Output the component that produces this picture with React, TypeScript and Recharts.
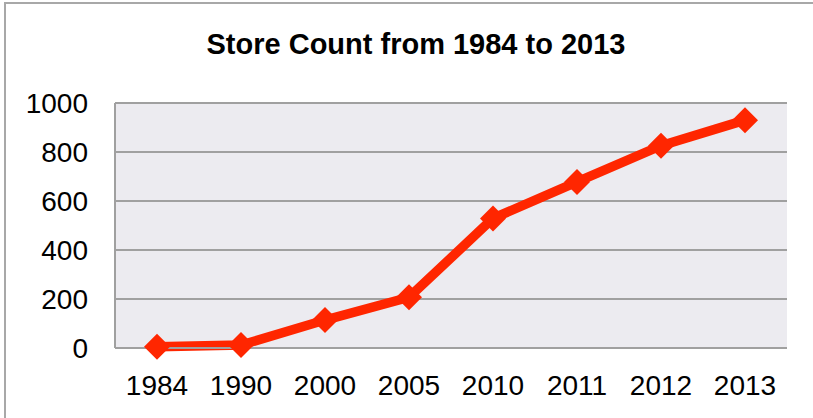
import { LineChart, Line, XAxis, YAxis, CartesianGrid } from "recharts";

const years = ["1984", "1990", "2000", "2005", "2010", "2011", "2012", "2013"];
const storeCounts = [5, 12, 114, 207, 529, 678, 826, 930];
const yTicks = [0, 200, 400, 600, 800, 1000];

const data = years.map((year, i) => ({ year, stores: storeCounts[i] }));

const RED = "#FF2600";
const FONT = "'Liberation Sans', Arial, sans-serif";

// diamond marker like the spreadsheet original
function Diamond(props: any) {
  const { cx, cy, index } = props;
  if (cx == null || cy == null) return null;
  const r = 13;
  return (
    <path
      key={index}
      d={`M${cx},${cy - r} L${cx + r},${cy} L${cx},${cy + r} L${cx - r},${cy} Z`}
      fill={RED}
    />
  );
}

export default function App() {
  return (
    <div
      style={{
        position: "absolute",
        left: 0,
        top: 0,
        width: 813,
        height: 418,
        background: "#fff",
        fontFamily: FONT,
      }}
    >
      {/* frame: only left and top edges show in the crop */}
      <div
        style={{
          position: "absolute",
          left: 4,
          top: 2,
          width: 809,
          height: 416,
          borderLeft: "2px solid #A8A8A8",
          borderTop: "2px solid #A8A8A8",
        }}
      />
      <div
        style={{
          position: "absolute",
          left: 0,
          top: 28,
          width: 832,
          textAlign: "center",
          fontSize: 29,
          fontWeight: "bold",
          color: "#000",
        }}
      >
        Store Count from 1984 to 2013
      </div>
      <div style={{ position: "absolute", left: 0, top: 0 }}>
        <LineChart
          width={813}
          height={418}
          data={data}
          margin={{ top: 103, right: 26, left: 0, bottom: 0 }}
        >
          <CartesianGrid
            vertical={false}
            stroke="#A0A0A0"
            strokeWidth={2}
            fill="#ECEBF0"
          />
          <XAxis
            dataKey="year"
            height={70}
            padding={{ left: 42, right: 42 }}
            axisLine={{ stroke: "#A0A0A0", strokeWidth: 2 }}
            tickLine={false}
            tickSize={0}
            tickMargin={27}
            interval={0}
            tick={{ fill: "#000", fontSize: 28, fontFamily: FONT }}
          />
          <YAxis
            width={115}
            domain={[0, 1000]}
            ticks={yTicks}
            axisLine={{ stroke: "#A0A0A0", strokeWidth: 2 }}
            tickLine={false}
            tickSize={0}
            tickMargin={27}
            tick={{ fill: "#000", fontSize: 28, fontFamily: FONT }}
          />
          <Line
            type="linear"
            dataKey="stores"
            stroke={RED}
            strokeWidth={9.5}
            dot={<Diamond />}
            activeDot={false}
            isAnimationActive={false}
          />
        </LineChart>
      </div>
    </div>
  );
}
